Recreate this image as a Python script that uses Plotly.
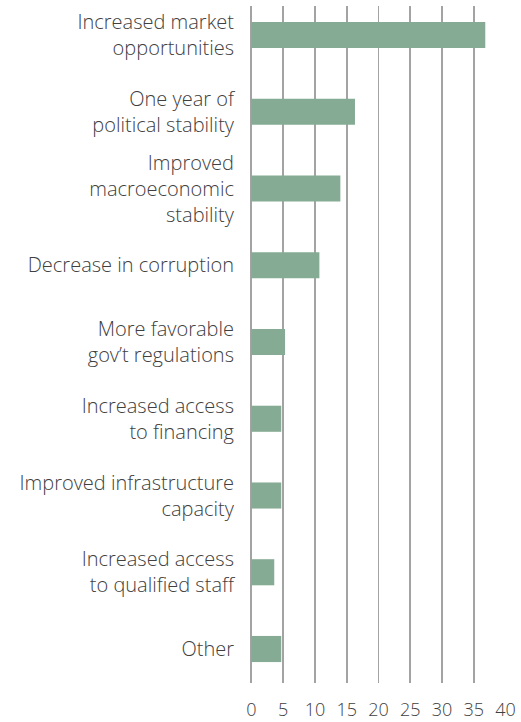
import plotly.graph_objects as go

categories = [
    "Increased market<br>opportunities",
    "One year of<br>political stability",
    "Improved<br>macroeconomic<br>stability",
    "Decrease in corruption",
    "More favorable<br>gov’t regulations",
    "Increased access<br>to financing",
    "Improved infrastructure<br>capacity",
    "Increased access<br>to qualified staff",
    "Other",
]
values = [36.8, 16.3, 14.0, 10.7, 5.3, 4.7, 4.7, 3.6, 4.7]
x_ticks = [0, 5, 10, 15, 20, 25, 30, 35, 40]

BAR = "#86AB94"
GRID = "#a3a3a3"
TEXT = "#404040"
FONT = "Open Sans"

fig = go.Figure(
    go.Bar(
        y=categories,
        x=values,
        orientation="h",
        marker=dict(color=BAR, line=dict(width=0)),
        width=0.34,
        hoverinfo="skip",
    )
)

fig.update_layout(
    width=521,
    height=722,
    margin=dict(l=251, r=15, t=6, b=39, autoexpand=False),
    paper_bgcolor="white",
    plot_bgcolor="white",
    showlegend=False,
    bargap=0.66,
    font=dict(family=FONT, color=TEXT, size=20, weight=300),
)

fig.update_xaxes(
    range=[-0.06, 40.06],
    tickvals=x_ticks,
    ticktext=[str(v) for v in x_ticks],
    showgrid=True,
    gridcolor=GRID,
    gridwidth=1.8,
    zeroline=True,
    zerolinecolor=GRID,
    zerolinewidth=1.8,
    showline=False,
    ticks="",
    tickfont=dict(family=FONT, size=18, color=TEXT, weight=300),
    ticklabelstandoff=14,
    automargin=False,
    fixedrange=True,
)

fig.update_yaxes(
    type="category",
    categoryorder="array",
    categoryarray=categories,
    range=[8.443, -0.378],
    showgrid=False,
    zeroline=False,
    showline=False,
    ticks="",
    tickfont=dict(family=FONT, size=20, color=TEXT, weight=300),
    ticklabelstandoff=16,
    automargin=False,
    fixedrange=True,
)

fig.write_html(
    "out.html",
    config={"displayModeBar": False, "staticPlot": True},
    post_script="document.body.style.margin='0';document.body.style.padding='0';",
)
